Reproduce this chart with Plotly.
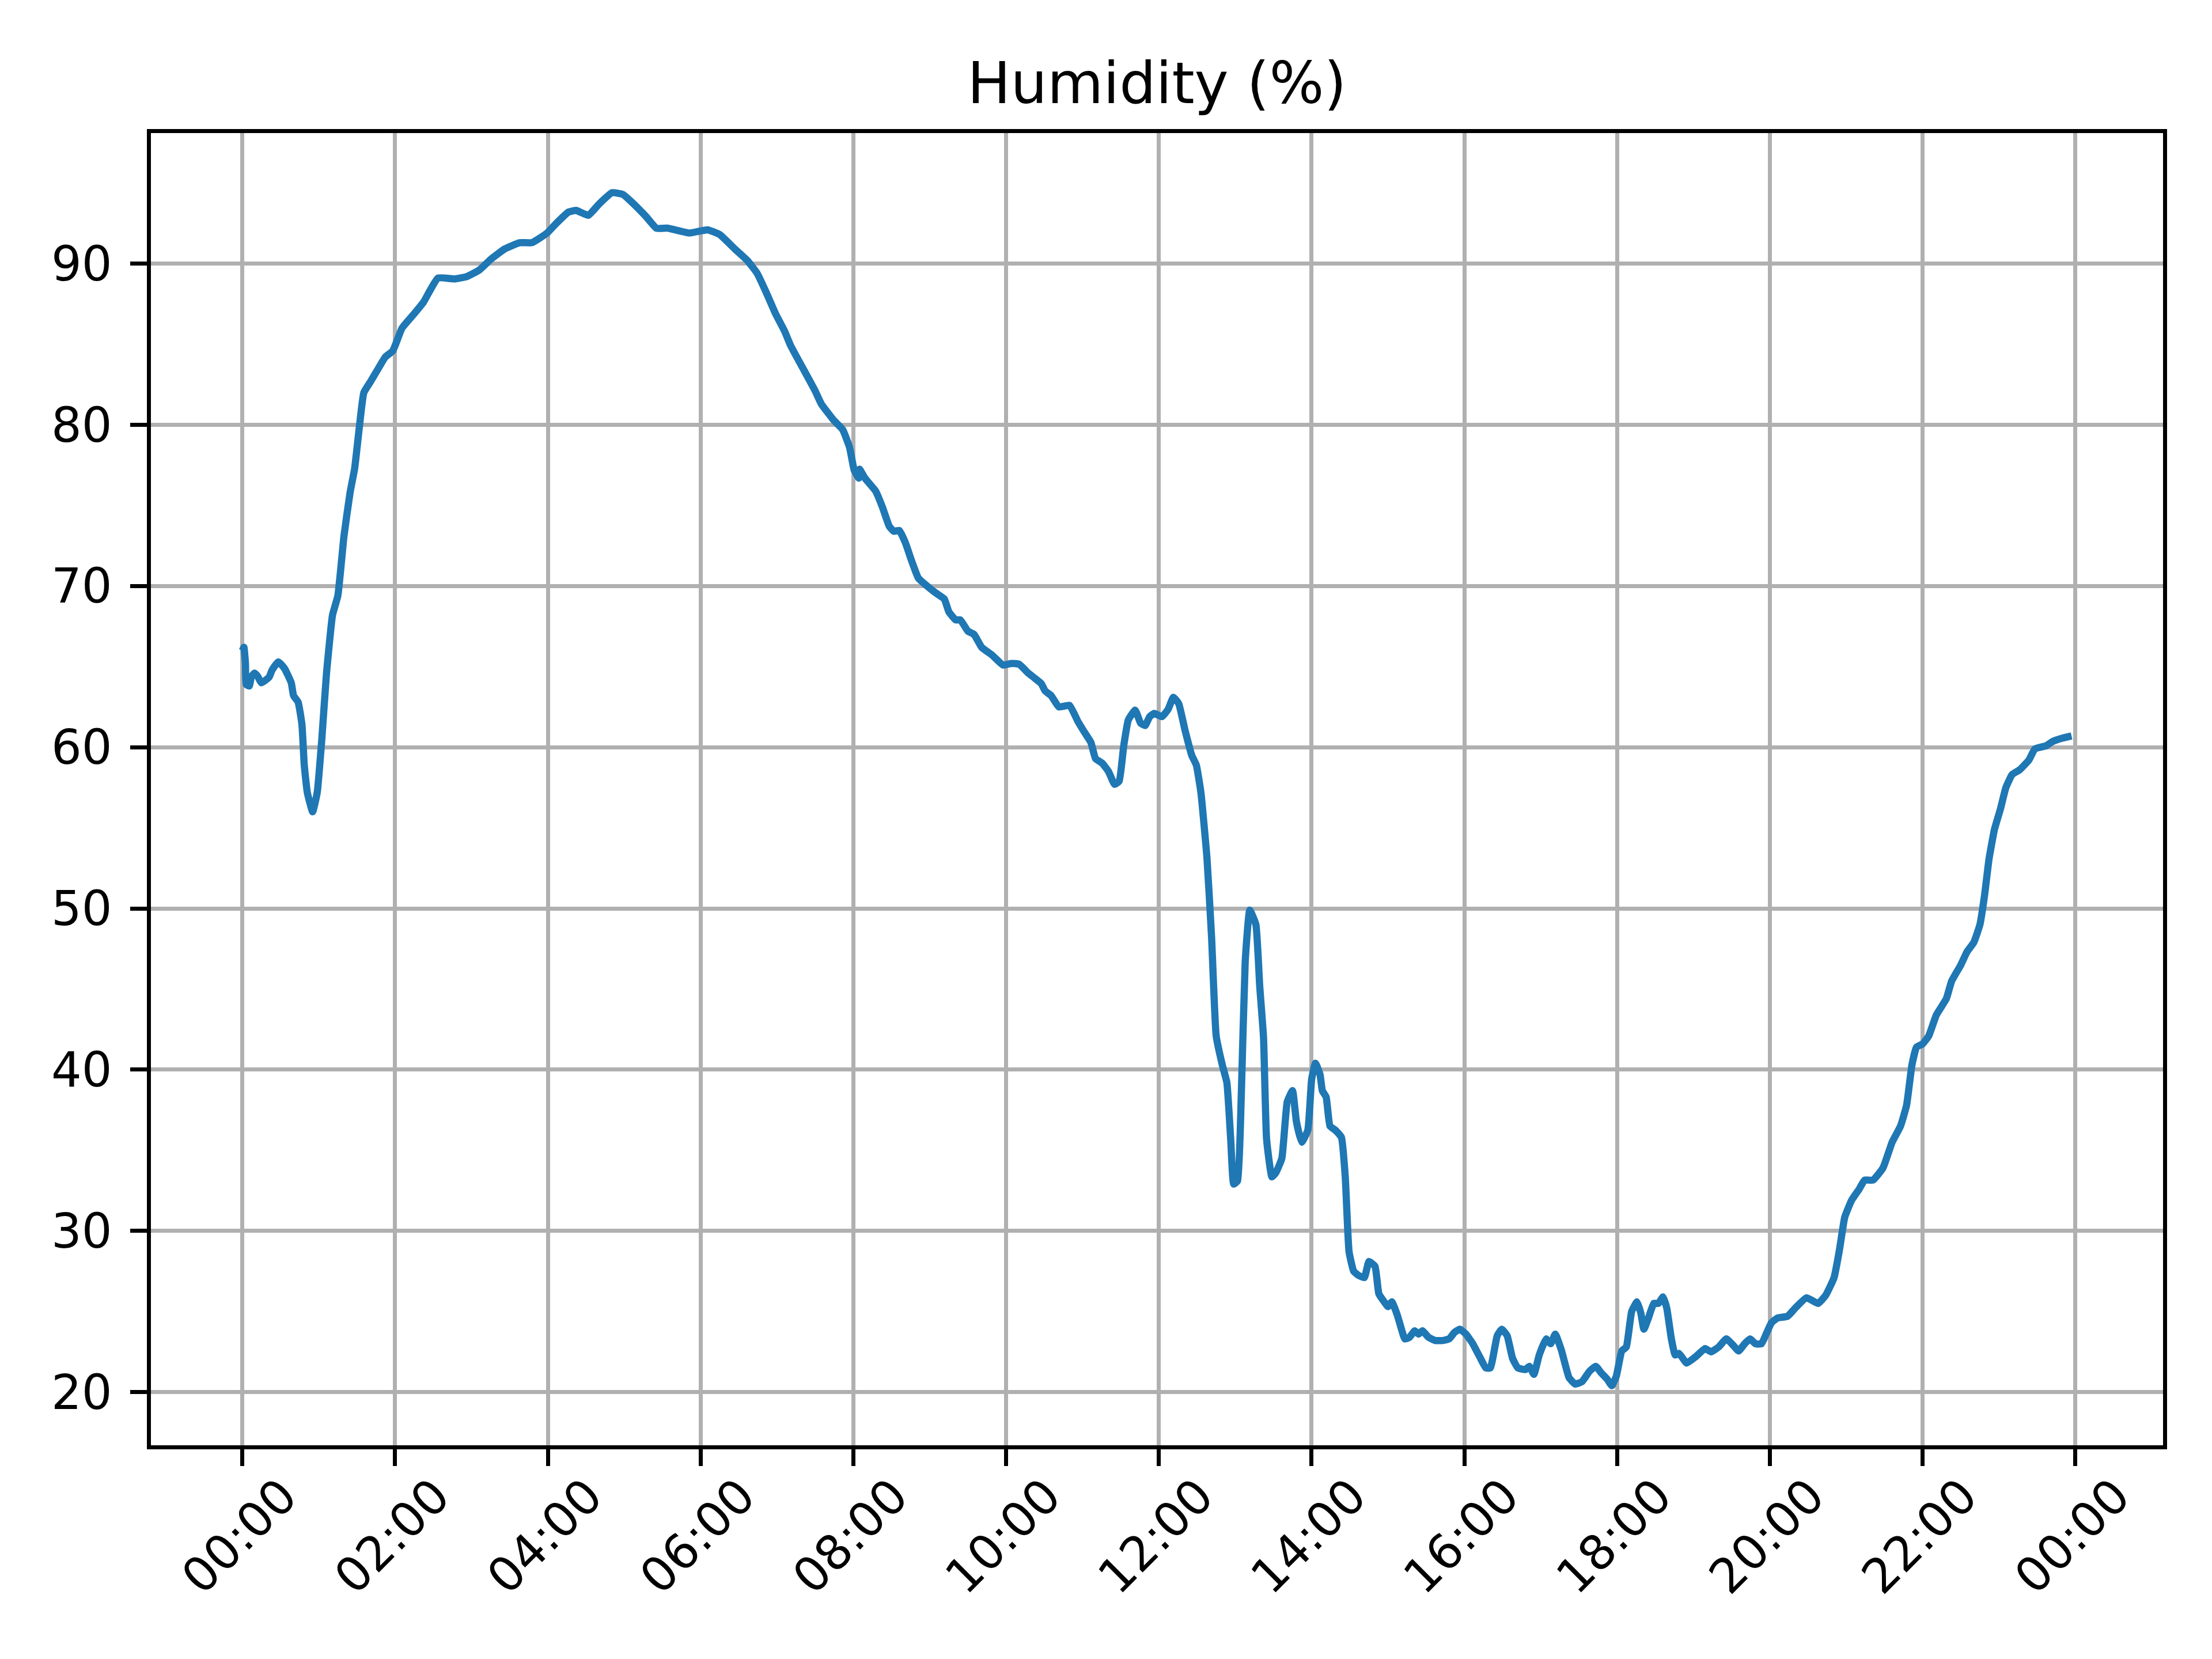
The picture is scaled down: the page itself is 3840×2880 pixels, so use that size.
import pandas as pd
import plotly.graph_objects as go

# Time of day (hours since midnight) and relative humidity (%)
hours = [
    0.00, 0.02, 0.04, 0.05, 0.09, 0.12, 0.16, 0.20, 0.25, 0.35, 0.39, 0.47, 0.55, 0.64, 0.67, 0.73,
    0.78, 0.81, 0.85, 0.92, 0.98, 1.04, 1.10, 1.18, 1.25, 1.33, 1.41, 1.47, 1.53, 1.59, 1.68, 1.78,
    1.87, 1.97, 2.09, 2.25, 2.37, 2.56, 2.78, 2.94, 3.10, 3.26, 3.43, 3.63, 3.79, 3.99, 4.11, 4.27,
    4.37, 4.53, 4.67, 4.84, 4.98, 5.08, 5.28, 5.42, 5.57, 5.85, 6.09, 6.25, 6.45, 6.61, 6.74, 6.86,
    6.98, 7.10, 7.18, 7.34, 7.50, 7.58, 7.74, 7.86, 7.95, 8.01, 8.07, 8.08, 8.15, 8.29, 8.38, 8.47,
    8.53, 8.60, 8.68, 8.76, 8.85, 8.94, 9.07, 9.19, 9.25, 9.34, 9.40, 9.50, 9.58, 9.68, 9.82, 9.96,
    10.07, 10.17, 10.29, 10.37, 10.46, 10.51, 10.59, 10.69, 10.83, 10.94, 11.03, 11.11, 11.17, 11.26,
    11.34, 11.42, 11.48, 11.54, 11.60, 11.69, 11.76, 11.82, 11.88, 11.94, 12.04, 12.12, 12.19, 12.26,
    12.34, 12.43, 12.49, 12.55, 12.63, 12.69, 12.75, 12.83, 12.89, 12.94, 12.98, 13.03, 13.08, 13.13,
    13.19, 13.27, 13.32, 13.37, 13.41, 13.48, 13.53, 13.61, 13.68, 13.75, 13.80, 13.87, 13.95, 14.00,
    14.05, 14.11, 14.14, 14.19, 14.24, 14.31, 14.39, 14.44, 14.49, 14.55, 14.61, 14.69, 14.75, 14.83,
    14.88, 14.95, 15.00, 15.05, 15.12, 15.17, 15.22, 15.28, 15.35, 15.40, 15.45, 15.53, 15.62, 15.72,
    15.80, 15.87, 15.94, 16.02, 16.11, 16.21, 16.28, 16.34, 16.43, 16.49, 16.56, 16.63, 16.70, 16.80,
    16.85, 16.91, 16.98, 17.07, 17.13, 17.19, 17.27, 17.37, 17.45, 17.54, 17.64, 17.72, 17.79, 17.87,
    17.93, 17.99, 18.06, 18.12, 18.19, 18.26, 18.31, 18.35, 18.41, 18.48, 18.54, 18.60, 18.65, 18.71,
    18.76, 18.81, 18.91, 19.03, 19.15, 19.23, 19.33, 19.43, 19.52, 19.59, 19.67, 19.74, 19.81, 19.89,
    19.96, 20.02, 20.10, 20.23, 20.33, 20.48, 20.63, 20.73, 20.84, 20.91, 20.98, 21.07, 21.17, 21.24,
    21.35, 21.48, 21.60, 21.71, 21.79, 21.86, 21.92, 22.00, 22.08, 22.18, 22.31, 22.38, 22.50, 22.58,
    22.67, 22.75, 22.81, 22.87, 22.94, 23.02, 23.09, 23.17, 23.27, 23.39, 23.47, 23.62, 23.70, 23.82,
    23.95,
]
humidity = [
    66.0, 66.2, 65.2, 63.9, 63.8, 64.4, 64.6, 64.4, 64.0, 64.35, 64.8, 65.3, 64.9, 64.0, 63.2, 62.8,
    61.4, 58.9, 57.2, 56.0, 57.2, 60.5, 64.5, 68.2, 69.4, 73.1, 75.8, 77.3, 79.8, 82.0, 82.7, 83.5,
    84.2, 84.6, 86.0, 86.9, 87.6, 89.1, 89.05, 89.2, 89.6, 90.3, 90.9, 91.3, 91.3, 91.9, 92.5, 93.2,
    93.3, 93.0, 93.7, 94.4, 94.3, 93.9, 92.95, 92.2, 92.2, 91.9, 92.1, 91.8, 90.9, 90.2, 89.4, 88.2,
    86.9, 85.8, 84.9, 83.5, 82.1, 81.3, 80.3, 79.7, 78.6, 77.2, 76.7, 77.25, 76.7, 75.9, 74.9, 73.7,
    73.4, 73.45, 72.7, 71.6, 70.5, 70.1, 69.6, 69.2, 68.4, 67.9, 67.9, 67.2, 67.0, 66.2, 65.7, 65.1,
    65.2, 65.15, 64.6, 64.3, 63.95, 63.5, 63.2, 62.5, 62.6, 61.6, 60.9, 60.3, 59.3, 59.0,
    58.5, 57.7, 57.9, 60.1, 61.7, 62.3, 61.5, 61.35, 61.9, 62.1, 61.9, 62.35, 63.1, 62.7,
    61.1, 59.5, 58.9, 57.2, 53.1, 48.2, 42.1, 40.3, 39.2, 35.7, 32.9, 33.1, 38.6, 46.7,
    49.9, 49.0, 45.2, 42.0, 35.7, 33.35, 33.6, 34.5, 38.0, 38.7, 36.8, 35.5, 36.25, 39.4,
    40.4, 39.7, 38.7, 38.3, 36.5, 36.25, 35.8, 33.35, 28.7, 27.5, 27.25, 27.1, 28.1, 27.8,
    26.1, 25.6, 25.3, 25.6, 24.8, 24.0, 23.3, 23.4, 23.8, 23.6, 23.8, 23.4, 23.2, 23.2,
    23.3, 23.7, 23.9, 23.6, 23.0, 22.1, 21.5, 21.5, 23.5, 23.9, 23.5, 22.1, 21.5, 21.4,
    21.6, 21.1, 22.3, 23.3, 23.0, 23.6, 22.6, 20.9, 20.5, 20.65, 21.3, 21.6, 21.2, 20.8,
    20.4, 21.0, 22.55, 22.8, 25.0, 25.6, 24.9, 23.9, 24.6, 25.5, 25.5, 25.9, 25.2, 23.3,
    22.3, 22.4, 21.8, 22.2, 22.7, 22.5, 22.8, 23.3, 22.9, 22.55, 23.0, 23.3, 23.0, 23.0,
    23.7, 24.3, 24.6, 24.7, 25.2, 25.85, 25.5, 26.0, 27.1, 28.8, 30.85, 31.9, 32.6, 33.15,
    33.15, 33.9, 35.5, 36.5, 37.8, 40.3, 41.4, 41.6, 42.1, 43.4, 44.4, 45.5, 46.5, 47.3,
    47.9, 49.0, 50.8, 53.1, 54.9, 56.2, 57.5, 58.3, 58.6, 59.2, 59.9, 60.1, 60.35, 60.55,
    60.7,
]
y_ticks = [20, 30, 40, 50, 60, 70, 80, 90]
title_text = "Humidity (%)"

base = pd.Timestamp("2024-01-01")
times = base + pd.to_timedelta(hours, unit="h")

# matplotlib-like 5% margins
hpad = 0.05 * (max(hours) - min(hours))
x_range = [base + pd.Timedelta(hours=min(hours) - hpad), base + pd.Timedelta(hours=max(hours) + hpad)]
vpad = 0.05 * (max(humidity) - min(humidity))
y_range = [min(humidity) - vpad, max(humidity) + vpad]

tick_vals = [base + pd.Timedelta(hours=h) for h in range(0, 25, 2)]
tick_text = [t.strftime("%H:%M") for t in tick_vals]

FONT = "DejaVu Sans"
fig = go.Figure()
fig.add_trace(go.Scatter(x=times, y=humidity, mode="lines",
                         line=dict(color="#1f77b4", width=12.5, shape="spline", smoothing=0.4),
                         showlegend=False))

axis_common = dict(
    showline=True, linecolor="black", linewidth=6.7, mirror=True,
    showgrid=True, gridcolor="#b0b0b0", gridwidth=6.7,
    ticks="outside", ticklen=29, tickwidth=6.7, tickcolor="black",
    zeroline=False,
    tickfont=dict(family=FONT, size=83, color="black"),
)

fig.update_layout(
    width=3840, height=2880,
    paper_bgcolor="white", plot_bgcolor="white",
    margin=dict(l=254, r=93, t=223, b=379),
    title=dict(text=title_text, x=0.5, xanchor="center", xref="paper",
               y=1, yref="paper", yanchor="bottom", pad=dict(b=52),
               font=dict(family=FONT, size=100, color="black")),
    xaxis=dict(range=x_range, tickmode="array", tickvals=tick_vals, ticktext=tick_text,
               tickangle=-45, ticklabelshift=70, ticklabelstandoff=-30, **axis_common),
    yaxis=dict(range=y_range, tickmode="array", tickvals=y_ticks,
               ticklabelstandoff=15, **axis_common),
)

fig.write_html("out.html")
